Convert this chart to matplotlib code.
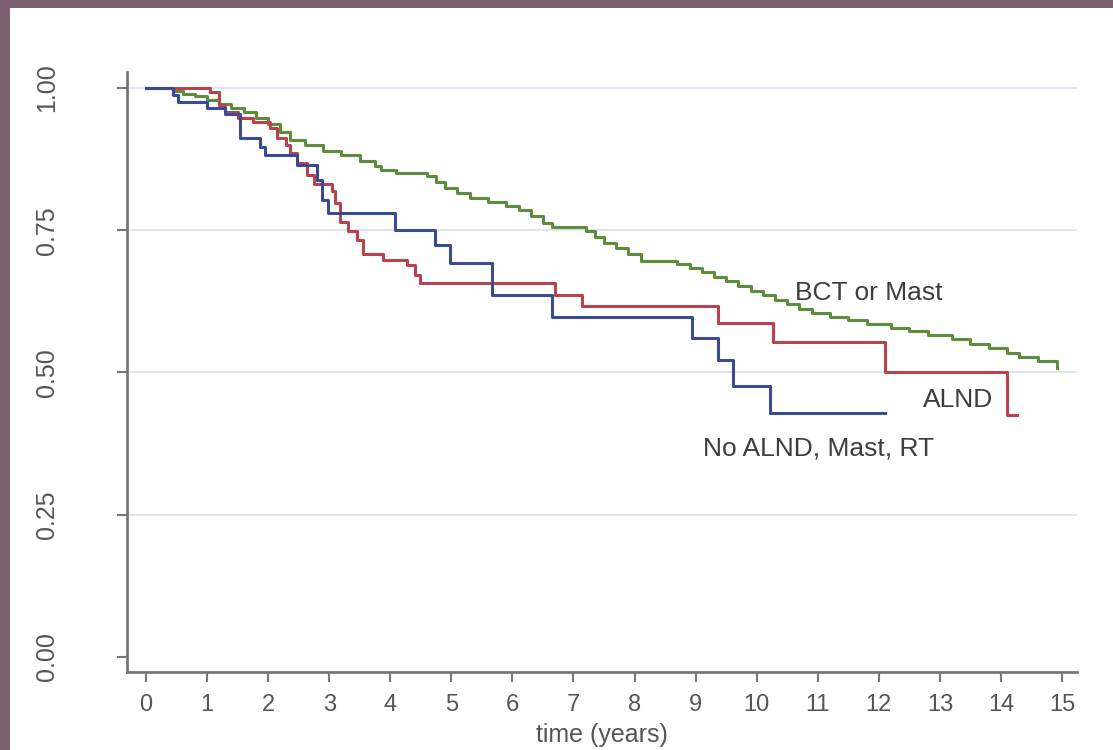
import matplotlib.pyplot as plt
from matplotlib.patches import Rectangle

# Kaplan-Meier step points: (time in years, survival)
bct_t = [0, 0.45, 0.6, 0.8, 1.0, 1.2, 1.4, 1.6, 1.8, 2.0, 2.2, 2.35, 2.6, 2.9, 3.2,
         3.5, 3.75, 3.85, 4.1, 4.6, 4.75, 4.9, 5.1, 5.3, 5.6, 5.9, 6.1, 6.3, 6.5,
         6.65, 7.2, 7.35, 7.5, 7.7, 7.9, 8.1, 8.7, 8.9, 9.1, 9.3, 9.5, 9.7, 9.9,
         10.1, 10.3, 10.5, 10.7, 10.9, 11.2, 11.5, 11.8, 12.2, 12.5, 12.8, 13.2,
         13.5, 13.8, 14.1, 14.3, 14.6, 14.92]
bct_s = [1.0, 0.995, 0.99, 0.985, 0.978, 0.972, 0.965, 0.957, 0.947, 0.936, 0.922,
         0.908, 0.9, 0.89, 0.882, 0.872, 0.862, 0.856, 0.851, 0.845, 0.835, 0.825,
         0.815, 0.806, 0.8, 0.793, 0.785, 0.775, 0.762, 0.756, 0.748, 0.738, 0.728,
         0.718, 0.708, 0.696, 0.69, 0.683, 0.676, 0.668, 0.66, 0.652, 0.644, 0.636,
         0.628, 0.62, 0.612, 0.605, 0.598, 0.592, 0.586, 0.579, 0.572, 0.566, 0.558,
         0.55, 0.543, 0.535, 0.527, 0.521, 0.508]

alnd_t = [0, 1.05, 1.2, 1.3, 1.5, 1.75, 2.03, 2.14, 2.3, 2.36, 2.47, 2.64, 2.75,
          3.05, 3.1, 3.18, 3.3, 3.45, 3.55, 3.88, 4.27, 4.4, 4.49, 6.7, 7.14, 9.37,
          10.27, 12.1, 14.1, 14.26]
alnd_s = [1.0, 0.993, 0.97, 0.958, 0.947, 0.94, 0.93, 0.912, 0.9, 0.886, 0.868,
          0.847, 0.832, 0.818, 0.798, 0.765, 0.748, 0.732, 0.708, 0.698, 0.688,
          0.672, 0.657, 0.636, 0.617, 0.587, 0.554, 0.5, 0.425, 0.425]

noalnd_t = [0, 0.45, 0.53, 1.0, 1.3, 1.54, 1.87, 1.95, 2.47, 2.8, 2.88, 2.98, 4.08,
            4.73, 4.98, 5.67, 6.65, 8.94, 9.37, 9.62, 10.22, 12.1]
noalnd_s = [1.0, 0.988, 0.975, 0.965, 0.955, 0.912, 0.896, 0.882, 0.865, 0.838,
            0.803, 0.78, 0.75, 0.724, 0.692, 0.636, 0.598, 0.561, 0.522, 0.476,
            0.429, 0.429]

x_ticks = list(range(0, 16))
y_ticks = [0.0, 0.25, 0.5, 0.75, 1.0]
y_tick_labels = ['0.00', '0.25', '0.50', '0.75', '1.00']

plt.rcParams['font.family'] = ['Liberation Sans', 'DejaVu Sans']

fig = plt.figure(figsize=(11.13, 7.5), dpi=100)
fig.patch.set_facecolor('#7b6070')
# white panel inside the mauve border
fig.add_artist(Rectangle((10 / 1113, 0), 1 - 10 / 1113, 1 - 8 / 750,
                         transform=fig.transFigure, facecolor='white',
                         edgecolor='none', zorder=0))

ax = fig.add_axes([127 / 1113, 78 / 750, 950 / 1113, 600 / 750])
ax.set_facecolor('none')

for y in [0.25, 0.5, 0.75, 1.0]:
    ax.axhline(y, color='#dde0f0', lw=1.3, zorder=1)

ax.step(bct_t, bct_s, where='post', color='#5d8c3c', lw=2.2, zorder=3)
ax.step(alnd_t, alnd_s, where='post', color='#b8424e', lw=2.2, zorder=3)
ax.step(noalnd_t, noalnd_s, where='post', color='#3a4a94', lw=2.2, zorder=3)

txt = dict(fontsize=19, color='#3d3d3d', va='center')
ax.text(10.63, 0.64, 'BCT or Mast', ha='left', **txt)
ax.text(12.72, 0.451, 'ALND', ha='left', **txt)
ax.text(9.12, 0.367, 'No ALND, Mast, RT', ha='left', **txt)

ax.set_xlim(-0.311, 15.245)
ax.set_ylim(-0.0264, 1.028)
ax.set_xticks(x_ticks)
ax.set_yticks(y_ticks)
ax.set_yticklabels(y_tick_labels, rotation=90, va='center')
ax.tick_params(axis='y', labelsize=18, colors='#777777', labelcolor='#555555',
               length=7, width=1.5, pad=42)
ax.tick_params(axis='x', labelsize=17, colors='#777777', labelcolor='#555555',
               length=7, width=1.5, pad=9)
ax.set_xlabel('time (years)', fontsize=18, color='#555555', labelpad=5)

for side in ['top', 'right']:
    ax.spines[side].set_visible(False)
for side in ['left', 'bottom']:
    ax.spines[side].set_color('#777777')
    ax.spines[side].set_linewidth(2)

fig.savefig('out.png', dpi=100, facecolor=fig.get_facecolor())
